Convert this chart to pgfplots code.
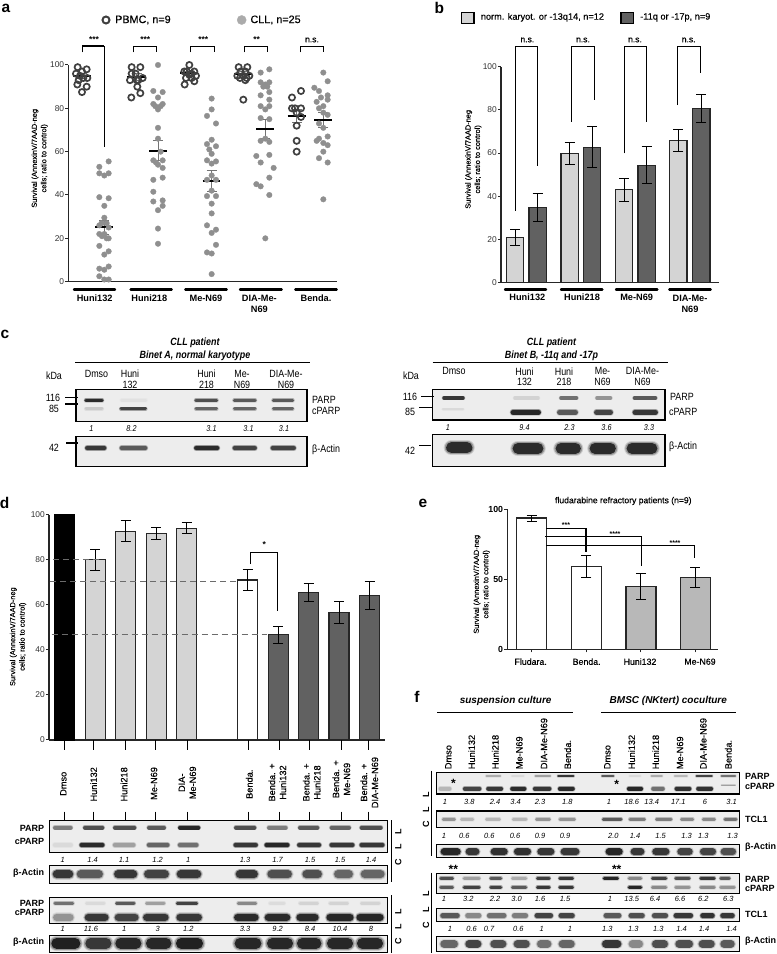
\documentclass[border=0pt]{standalone}
\usepackage{fontspec}
\setmainfont{Liberation Sans}
\newfontfamily\cf[FakeStretch=.85]{Liberation Sans}
\newfontfamily\sm[FakeBold=.35]{Liberation Sans}
\usepackage{pgfplots}
\pgfplotsset{compat=1.18}
\newcommand\fs[2]{\fontsize{#1}{#2}\selectfont}

\definecolor{lgray}{gray}{0.83}
\definecolor{dgray}{gray}{0.38}
\definecolor{dots}{gray}{0.56}
\definecolor{ring}{gray}{0.25}
\definecolor{blotbg}{gray}{0.93}

% one sheet = a crop of the figure, coordinates in crop pixels
\pgfplotsset{
 sheet/.style n args={6}{
  at={(#1pt,954pt-#2pt-#4pt)}, anchor=south west, scale only axis,
  width=#3pt, height=#4pt, xmin=0, xmax=#5, ymin=0, ymax=#6,
  y dir=reverse, hide axis, clip=false},
 chart/.style={
  anchor=south west, scale only axis, clip=false,
  axis lines*=left, axis line style={-,line width=1.3pt,black!85},
  xtick=\empty, tick style={black!85,line width=1pt}, major tick length=3pt,
  tick align=outside, ymin=0, ymax=100,
  /pgf/number format/assume math mode=true,
  yticklabel style={font=\fs{8.4}{9},black!80,inner sep=1pt},
  error bars/y dir=both, error bars/y explicit,
  error bars/error bar style={line width=1pt,black},
  error bars/error mark options={rotate=90,line width=1pt,mark size=5pt,black}},
 barchart/.style={chart,ybar,bar shift=0pt},
 bar1/.style={draw=black!85,line width=1.2pt,fill=lgray},
 bar2/.style={draw=black!85,line width=1.2pt,fill=dgray},
 bar0/.style={draw=black!85,line width=1.2pt,fill=white},
 brk/.style={no marks,black,line width=1pt,sharp plot},
 dsh/.style={sharp plot,no marks,black!58,line width=1.1pt,dash pattern=on 6pt off 4pt},
}
\tikzset{
 t/.style={inner sep=0pt,align=center},
 yl/.style={t,rotate=90,font=\fs{7.4}{9.4}\sm},
 cat/.style={t,font=\fs{9.2}{10.5}\bfseries},
 pan/.style={t,font=\fs{15.5}{16}\bfseries},
 num/.style={t,font=\fs{7.5}{8}\itshape},
 numc/.style={t,font=\fs{8.5}{9}\cf\itshape},
 rot/.style={t,rotate=90,anchor=west,font=\fs{9.2}{11}\sm},
 rl/.style={t,font=\fs{9}{10}\bfseries,anchor=west},
 ll/.style={t,font=\fs{9}{10}\bfseries,anchor=east},
 cl/.style={t,font=\fs{10.5}{10.7}\cf},
 sig/.style={t,font=\fs{8.5}{9}\bfseries},
 ns/.style={t,font=\fs{8.5}{9}\sm},
 lg/.style={t,anchor=west,font=\fs{10.8}{12}\sm},
 lgb/.style={t,anchor=west,font=\fs{9.2}{11}\sm},
 el/.style={t,font=\fs{8.8}{10}\sm},
 cll/.style={t,rotate=90,font=\fs{9}{10}\bfseries},
}

% a blot band, soft edge plus core; widths in crop pixels (crops are 3x in y)
\newcommand\band[5]{%
 \addplot[no marks,line cap=round,line width=#4*.333*1.3pt,black!#5,opacity=.15] coordinates {(#1,#3)(#2,#3)};
 \addplot[no marks,line cap=round,line width=#4*.333*1.12pt,black!#5,opacity=.3] coordinates {(#1,#3)(#2,#3)};
 \addplot[no marks,line cap=round,line width=#4*.333*.9pt,black!#5,opacity=.85] coordinates {(#1,#3)(#2,#3)};}
\newcommand\bands[3]{\foreach \a/\b/\g in {#3}{\edef\tmp{\noexpand\band{\a}{\b}{#1}{#2}{\g}}\tmp}}
\newcommand\blot[4]{\addplot[no marks,fill=blotbg,draw=black,line width=1.3pt] coordinates {(#1,#3)(#2,#3)(#2,#4)(#1,#4)} -- cycle;}
\newcommand\nums[3]{\foreach \x/\s in {#3}{\edef\tmp{\noexpand\node[#2] at (axis cs:\x,#1) {\s};}\tmp}}
\newcommand\under[3]{\addplot[no marks,line width=2.4pt,line cap=round,black] coordinates {(#1,#3)(#2,#3)};}
\newcommand\seg[4]{\addplot[no marks,line width=1pt,black] coordinates {(#1,#2)(#3,#4)};}

\begin{document}
\begin{tikzpicture}[x=1pt,y=1pt]
\useasboundingbox (0,0) rectangle (777pt,954pt);

%%%%% a
\begin{axis}[chart, at={(68.33pt,672.33pt)}, width=268.33pt, height=216.67pt,
 xmin=205, xmax=1010, ytick={0,20,40,60,80,100}]
\addplot[only marks,color=dots,mark=*,mark size=2.8pt,mark options={line width=.3pt,draw=dots,fill=dots}] coordinates {
(326,55.5)(298,53)(298,50)(326,50)(313,49)(298,39)(326,38.5)(313,35)(313,29.5)(305,27)(320,27)(298,26)(326,25)(298,22)(313,22)(306,21)(320,20)(326,20)(298,16.5)(326,14)(313,12.5)(298,6)(313,5.5)(326,7)(298,2.5)(313,1)(326,1)
(474,100)(460,88)(488,87.5)(474,85)(460,82)(488,82)(466,81)(482,81)(474,79.5)(474,71)(474,66)(482,60)(488,56)(460,56)(468,55)(474,54)(488,52.5)(460,47)(488,48)(460,41.5)(460,37)(488,37.5)(488,35)(474,33)(474,24.5)(474,17.5)
(635,84.5)(635,79.5)(621,76.5)(648,73)(635,65.5)(621,63.5)(648,62.5)(628,61)(635,59)(621,56)(648,55.5)(635,54.5)(635,49)(621,47)(648,47)(635,42)(621,39.5)(648,39.5)(635,36)(635,31.5)(621,26)(648,24)(635,22.5)(648,17)(621,13.5)(635,13)(635,3.5)
(782,96.5)(808,98)(782,92)(796,91)(808,92)(790,90)(802,90)(808,87.5)(782,86)(808,84)(782,81)(808,81)(796,79.5)(782,75.5)(808,75)(796,66)(782,65)(808,64.5)(769,58)(808,58.5)(782,55)(821,52.5)(808,48)(769,45)(782,44)(808,40)(796,20)
(970,96.5)(983,92.5)(943,89.5)(957,88)(963,85)(983,86)(950,83)(983,84)(970,81)(957,80)(970,78)(983,77)(957,73)(970,71)(983,67)(957,66)(950,65)(970,64)(983,63)(970,60)(957,57)(983,55)(970,38)};
\addplot[only marks,mark=o,mark size=3.1pt,mark options={draw=ring,line width=1.7pt}] coordinates {
(233,99)(246,97)(260,98)(228,96)(240,95)(250,94)(262,94)(236,93)(232,91)(260,90)(246,87.5)
(395,99)(421,99)(395,96)(407,96)(428,94)(390,93)(415,93)(410,93)(412,90)(421,87)(394,85)
(568,100)(553,97)(583,97)(560,97)(575,96)(568,95.5)(588,95)(558,94)(575,94)(583,92.5)(554,91)
(716,99)(742,99)(722,97)(736,97)(712,95)(748,95)(730,95)(720,94)(740,94)(736,93)(730,84)
(903,88)(876,85)(876,80)(885,80)(903,80)(890,78)(903,76)(890,72)(890,65)(890,60)};
% SEM whiskers
\addplot[draw=none,no marks,error bars/error bar style={line width=.9pt,black!55},error bars/error mark options={rotate=90,line width=.9pt,mark size=5pt,black!55}] coordinates {
(246,95) +- (0,1.3) (313,25) +- (0,3.2) (410,94.5) +- (0,1.5) (474,60.5) +- (0,4.5)
(568,96.3) +- (0,0.9) (635,46.4) +- (0,4.7) (730,95.7) +- (0,1.4) (796,70.5) +- (0,4.5)
(890,76.5) +- (0,3.2) (970,74.7) +- (0,3.5)};
% means
\foreach \a/\b/\m in {219/273/95,286/340/25.2,381/435/94.5,448/501/60.5,541/595/96.3,608/661/46.4,702/756/95.7,769/823/70.5,863/917/76.5,943/997/74.7}{
 \edef\tmp{\noexpand\addplot[no marks,line width=1.9pt,black] coordinates {(\a,\m)(\b,\m)};}\tmp}
\end{axis}

\begin{axis}[sheet={0}{0}{400}{320}{1200}{960}]
\addplot[only marks,mark=o,mark size=3.5pt,mark options={draw=ring,line width=2pt}] coordinates {(318,60)};
\addplot[only marks,mark=*,mark size=4.6pt,mark options={draw=black!33,fill=black!33,line width=.3pt}] coordinates {(725,60)};
\addplot[brk,line width=1.1pt] coordinates {(247,157)(247,138)(313,138)};
\addplot[brk,line width=1.6pt] coordinates {(313,138)(313,440)};
\addplot[brk] coordinates {(399,157)(399,138)(470,138)(470,157)};
\addplot[brk] coordinates {(571,157)(571,138)(642,138)(642,157)};
\addplot[brk] coordinates {(733,157)(733,138)(803,138)(803,157)};
\addplot[brk] coordinates {(901,157)(901,138)(971,138)(971,157)};
\under{222}{345}{868}\under{392}{515}{868}\under{556}{680}{868}\under{720}{845}{868}\under{886}{1010}{868}
\node[pan] at (18,26) {a};
\node[lg] at (345,60) {PBMC, n=9};
\node[lg] at (751,60) {CLL, n=25};
\node[sig] at (282,120) {***};\node[sig] at (436,120) {***};\node[sig] at (610,120) {***};\node[sig] at (770,120) {**};
\node[ns] at (936,120) {n.s.};
\node[cat] at (284,894) {Huni132};\node[cat] at (448,894) {Huni218};\node[cat] at (618,894) {Me-N69};
\node[cat,anchor=north] at (778,886) {DIA-Me-\\N69};\node[cat] at (948,894) {Benda.};
\node[yl] at (119,475) {Survival (AnnexinV/7AAD-neg\\cells; ratio to control)};
\end{axis}

%%%%% b
\begin{axis}[barchart, at={(501pt,671.33pt)}, width=218.33pt, height=216pt, xmin=303, xmax=958,
 ytick={0,20,40,60,80,100}, bar width=17.5pt]
\addplot[bar1] coordinates {(345,21) +- (0,3.8) (509,59.7) +- (0,5.1) (672,43) +- (0,5.3) (835,65.8) +- (0,5)};
\addplot[bar2] coordinates {(413,34.7) +- (0,6.5) (576,62.7) +- (0,9.5) (740,54.3) +- (0,8.6) (903.5,80.5) +- (0,6.5)};
\end{axis}
\begin{axis}[sheet={400}{0}{377}{320}{1131}{960}]
\addplot[no marks,fill=lgray,draw=black,line width=1.4pt] coordinates {(185,37)(222,37)(222,70)(185,70)} -- cycle;
\addplot[no marks,fill=dgray,draw=black,line width=1.4pt] coordinates {(663,37)(700,37)(700,70)(663,70)} -- cycle;
\addplot[brk] coordinates {(347,632)(347,138)(413,138)(413,497)};
\addplot[brk] coordinates {(515,365)(515,138)(583,138)(583,300)};
\addplot[brk] coordinates {(672,460)(672,138)(740,138)(740,365)};
\addplot[brk] coordinates {(833,315)(833,138)(900,138)(900,220)};
\under{315}{438}{868}\under{483}{607}{868}\under{648}{772}{868}\under{808}{932}{868}
\node[pan] at (118,24) {b};
\node[lgb] at (242,52) {norm. karyot. or -13q14, n=12};
\node[lgb] at (720,52) {-11q or -17p, n=9};
\nums{120}{ns}{382/n.s.,549/n.s.,705/n.s.,866/n.s.}
\node[cat] at (382,893) {Huni132};\node[cat] at (546,893) {Huni218};\node[cat] at (710,893) {Me-N69};
\node[cat,anchor=north] at (870,885) {DIA-Me-\\N69};
\node[yl] at (220,478) {Survival (AnnexinV/7AAD-neg\\cells; ratio to control)};
\end{axis}

%%%%% c  (this crop: 2x in x, 3x in y)
\begin{axis}[sheet={0}{320}{777}{170}{1554}{510}]
\node[pan] at (10,42) {c};
\node[t,font=\fs{10.5}{12.7}\cf\itshape\bfseries] at (390,88) {CLL patient\\Binet A, normal karyotype};
\node[t,font=\fs{10.5}{12.7}\cf\itshape\bfseries] at (1103,88) {CLL patient\\Binet B, -11q and -17p};
\addplot[no marks,line width=1.2pt,black] coordinates {(150,127)(620,127)};
\addplot[no marks,line width=1.2pt,black] coordinates {(865,127)(1335,127)};
\node[cl] at (108,166) {kDa};\node[cl] at (822,168) {kDa};
\node[cl] at (193,161) {Dmso};\node[cl,anchor=north] at (260,150) {Huni\\132};
\node[cl,anchor=north] at (413,150) {Huni\\218};\node[cl,anchor=north] at (484,150) {Me-\\N69};\node[cl,anchor=north] at (572,150) {DIA-Me-\\N69};
\node[cl] at (908,152) {Dmso};\node[cl,anchor=north] at (1049,142) {Huni\\132};\node[cl,anchor=north] at (1128,142) {Huni\\218};
\node[cl,anchor=north] at (1205,142) {Me-\\N69};\node[cl,anchor=north] at (1285,142) {DIA-Me-\\N69};
% left blots
\blot{152}{614}{208}{305}
\bands{241}{11}{172/204/90,244/291/12,392/433/75,469/510/70,547/585/70}
\bands{266}{10}{172/204/22,242/291/80,392/433/65,469/510/65,547/585/65}
\blot{152}{614}{349}{440}
\bands{384}{16}{175/208/85,244/290/70,393/434/90,470/509/80,546/587/80}
\addplot[no marks,line width=1.4pt,black] coordinates {(130,233)(155,233)};
\addplot[no marks,line width=1.4pt,black] coordinates {(130,252)(155,252)};
\addplot[no marks,line width=1.4pt,black] coordinates {(132,369)(155,369)};
\node[cl] at (106,233) {116};\node[cl] at (108,266) {85};\node[cl] at (108,384) {42};
\node[cl,anchor=west] at (624,240) {PARP};\node[cl,anchor=west] at (624,272) {cPARP};\node[cl,anchor=west] at (624,388) {β-Actin};
\nums{325}{numc}{183/1,263/8.2,423/3.1,497/3.1,568/3.1}
% right blots
\blot{865}{1330}{208}{300}
\bands{234}{11}{888/926/85,1030/1076/18,1122/1153/60,1194/1221/45,1269/1311/70}
\bands{277}{16}{1026/1077/92,1119/1151/70,1193/1221/80,1270/1311/85}
\band{886}{926}{268}{7}{15}
\blot{865}{1330}{343}{440}
\bands{385}{36}{1036/1076/90,1122/1151/90,1190/1221/90,1264/1304/90}
\band{903}{934}{383}{36}{90}
\addplot[no marks,line width=1.2pt,black] coordinates {(842,229)(868,229)};
\addplot[no marks,line width=1.2pt,black] coordinates {(838,263)(865,263)};
\addplot[no marks,line width=1.2pt,black] coordinates {(838,376)(862,376)};
\node[cl] at (820,231) {116};\node[cl] at (820,277) {85};\node[cl] at (820,393) {42};
\node[cl,anchor=west] at (1340,232) {PARP};\node[cl,anchor=west] at (1338,277) {cPARP};\node[cl,anchor=west] at (1338,380) {β-Actin};
\nums{324}{numc}{896/1,1049/9.4,1139/2.3,1213/3.6,1298/3.3}
\end{axis}

%%%%% d
\begin{axis}[barchart, at={(49pt,214pt)}, width=336pt, height=225.33pt, xmin=147, xmax=1155,
 ytick={0,20,40,60,80,100}, bar width=20pt]
\addplot[draw=black,fill=black,line width=1.2pt] coordinates {(194,100)};
\addplot[bar1] coordinates {(286,80) +- (0,4.6) (377,92.7) +- (0,4.8) (468.5,91.7) +- (0,2.5) (560,94) +- (0,2.4)};
\addplot[bar0] coordinates {(743,71) +- (0,4.5)};
\addplot[bar2] coordinates {(835,46.7) +- (0,3.7) (925.5,65.3) +- (0,4) (1017,56.5) +- (0,5) (1109,64) +- (0,6.2)};
\addplot[dsh] coordinates {(160,80)(300,80)};
\addplot[dsh] coordinates {(150,70.5)(710,70.5)};
\addplot[dsh] coordinates {(155,46.7)(800,46.7)};
\end{axis}
\begin{axis}[sheet={0}{490}{420}{260}{1260}{780}]
\node[pan] at (14,40) {d};
\addplot[brk] coordinates {(750,222)(750,186)(832,186)(832,362)};
\node[sig] at (793,164) {*};
\node[yl] at (54,440) {Survival (AnnexinV/7AAD-neg\\cells; ratio to control)};
\end{axis}
\begin{axis}[sheet={0}{730}{420}{224}{1260}{672}]
\foreach \x in {192,281,375,466,563,746,838,928,1024,1105}{
 \edef\tmp{\noexpand\seg{\x}{30}{\x}{60}\noexpand\seg{\x}{245}{\x}{270}}\tmp}
\node[rot] at (190,198) {Dmso};\node[rot] at (281,215) {Huni132};\node[rot] at (372,215) {Huni218};\node[rot] at (462,210) {Me-N69};
\node[rot] at (562,208) {DIA-\\Me-N69};\node[rot] at (748,207) {Benda.};
\node[rot] at (832,215) {Benda. +\\Huni132};\node[rot] at (935,215) {Benda. +\\Huni218};\node[rot] at (1024,205) {Benda. +\\Me-N69};\node[rot] at (1108,235) {Benda. +\\DIA-Me-N69};
\blot{148}{1163}{272}{367}
\bands{293}{13}{165/212/55,255/307/75,345/403/75,447/492/70,540/595/92,708/763/75,807/857/55,900/952/70,995/1047/65,1085/1142/75}
\bands{345}{15}{165/212/15,245/307/90,345/400/40,447/502/65,540/589/60,707/767/85,800/862/92,898/957/85,995/1057/85,1085/1147/85}
\blot{148}{1163}{407}{460}
\bands{433}{26}{170/208/85,242/297/70,354/400/85,444/495/80,542/592/85,719/762/85,814/864/75,919/954/75,1014/1047/65,1094/1142/65}
\blot{148}{1163}{503}{580}
\bands{520}{10}{165/218/60,260/312/15,350/402/70,440/492/40,532/590/80,715/767/50,810/852/14,900/952/18,990/1042/18,1085/1137/18}
\bands{562}{24}{170/210/45,265/315/85,355/405/80,440/495/85,540/595/85,713/765/90,805/860/90,900/945/90,990/1050/92,1080/1140/92}
\blot{148}{1163}{617}{668}
\bands{640}{36}{170/225/95,272/318/85,362/408/92,454/498/92,544/593/95,720/768/92,817/863/92,907/948/92,997/1043/92,1087/1133/92}
\nums{390}{num}{188/1,278/1.4,372/1.1,473/1.2,565/1,735/1.3,833/1.7,930/1.5,1020/1.5,1113/1.4}
\nums{597}{num}{188/1,273/11.6,373/1,473/3,565/1.2,735/3.3,833/9.2,930/8.4,1020/10.4,1113/8}
\node[ll] at (133,296) {PARP};\node[ll] at (133,333) {cPARP};\node[ll] at (133,430) {β-Actin};
\node[ll] at (133,521) {PARP};\node[ll] at (133,548) {cPARP};\node[ll] at (133,637) {β-Actin};
\addplot[no marks,line width=1pt,black] coordinates {(1175,270)(1175,455)};
\addplot[no marks,line width=1pt,black] coordinates {(1175,495)(1175,668)};
\foreach \y/\s in {305/L,350/L,398/C,545/L,590/L,635/C}{
 \edef\tmp{\noexpand\node[cll] at (axis cs:1195,\y) {\s};}\tmp}
\end{axis}

%%%%% e
\begin{axis}[barchart, at={(507.33pt,304.67pt)}, width=211pt, height=140pt, xmin=262, xmax=895,
 ytick={0,50,100}, xtick={335,499,663,826}, xticklabels={}, bar width=30pt,
 yticklabel style={font=\fs{8.8}{9}\bfseries,black}]
\addplot[bar0,line width=1.4pt] coordinates {(335,93.7) +- (0,2.2) (499,59.3) +- (0,8)};
\addplot[draw=black!85,line width=1.4pt,fill=black!28] coordinates {(663,45) +- (0,9.3) (826,51.5) +- (0,7)};
\end{axis}
\begin{axis}[sheet={420}{490}{357}{220}{1071}{660}]
\node[pan] at (9,40) {e};
\node[t,font=\fs{8.6}{10}\sm] at (610,33) {fludarabine refractory patients (n=9)};
\addplot[brk] coordinates {(378,114)(498,114)};\addplot[brk,line width=1.7pt] coordinates {(498,114)(498,185)};
\addplot[brk] coordinates {(375,140)(663,140)(663,228)};
\addplot[brk] coordinates {(378,167)(824,167)(824,205)};
\node[t,font=\fs{7}{8}\bfseries] at (438,106) {***};\node[t,font=\fs{7}{8}\bfseries] at (585,131) {****};\node[t,font=\fs{7}{8}\bfseries] at (765,158) {****};
\node[el] at (332,515) {Fludara.};\node[el] at (500,515) {Benda.};
\node[el] at (660,515) {Huni132};\node[el] at (840,515) {Me-N69};
\node[yl] at (185,283) {Survival (AnnexinV/7AAD-neg\\cells; ratio to control)};
\end{axis}

%%%%% f
\begin{axis}[sheet={420}{690}{357}{264}{1071}{792}]
\node[pan] at (-9,21) {f};
\node[t,font=\fs{10}{12}\bfseries\itshape] at (257,32) {suspension culture};
\node[t,font=\fs{10}{12}\bfseries\itshape] at (745,32) {BMSC (NKtert) coculture};
\addplot[no marks,line width=1.3pt,black] coordinates {(52,68)(460,68)};
\addplot[no marks,line width=1.3pt,black] coordinates {(543,68)(948,68)};
\foreach \x/\s in {85/Dmso,155/Huni132,226/Huni218,298/Me-N69,372/DIA-Me-N69,443/Benda.,562/Dmso,635/Huni132,707/Huni218,780/Me-N69,850/DIA-Me-N69,925/Benda.}{
 \edef\tmp{\noexpand\node[rot] at (axis cs:\x,238) {\s};}\tmp}
\blot{50}{958}{247}{312}
\bands{258}{8}{200/240/35,277/310/15,347/390/40,415/460/85,547/580/70,630/660/15,695/725/35,765/800/30,830/875/80,905/945/60}
\bands{296}{14}{62/88/30,135/178/80,205/243/85,277/313/90,345/388/85,420/458/90,627/663/92,700/728/60,770/808/88,835/873/88}
\band{905}{945}{286}{5}{40}
\blot{50}{958}{363}{412}
\bands{388}{10}{70/103/45,125/158/30,200/238/30,280/318/30,350/388/45,420/463/45,550/603/70,630/673/55,710/753/55,785/818/50,850/883/50,915/948/60}
\blot{50}{958}{463}{502}
\bands{485}{22}{72/112/92,147/168/85,222/253/88,292/323/88,362/393/85,432/468/85,567/598/92,642/663/85,707/738/85,782/808/80,850/878/80,912/938/75}
\blot{50}{958}{550}{610}
\bands{565}{11}{63/97/75,133/177/40,213/242/70,278/317/35,353/387/82,420/457/85,553/592/92,628/662/50,698/737/80,768/807/75,843/882/85,903/927/70}
\bands{592}{11}{63/97/70,133/177/80,213/242/80,278/317/70,353/387/85,420/457/85,628/662/92,698/737/50,768/807/45,843/882/50,903/942/45}
\blot{50}{958}{655}{695}
\bands{677}{16}{68/112/70,143/177/50,208/252/60,283/317/55,351/392/80,423/457/80,558/597/70,633/667/75,703/737/75,768/812/85,848/877/88,908/937/85}
\blot{50}{958}{740}{785}
\bands{762}{24}{72/103/65,147/173/80,222/248/75,292/318/75,362/383/60,427/453/65,557/593/85,637/658/50,707/733/75,777/808/75,847/873/75,912/933/70}
\node[t,font=\fs{12}{12}\bfseries] at (100,280) {*};\node[t,font=\fs{12}{12}\bfseries] at (590,283) {*};
\node[t,font=\fs{12}{12}\bfseries] at (100,537) {**};\node[t,font=\fs{12}{12}\bfseries] at (590,537) {**};
\nums{337}{num}{75/1,148/3.8,225/2.4,287/3.4,360/2.3,442/1.8,567/1,635/18.6,695/13.4,775/17.1,855/6,935/3.1}
\nums{437}{num}{72/1,133/0.6,208/0.6,285/0.6,360/0.9,435/0.9,580/2.0,645/1.4,722/1.5,800/1.3,850/1.3,938/1.3}
\nums{627}{num}{72/1,145/3.2,225/2.2,290/3.0,360/1.6,435/1.5,570/1,635/13.5,705/6.4,780/6.6,850/6.2,925/6.3}
\nums{716}{num}{90/1,155/0.6,207/0.7,295/0.6,365/1,450/1,562/1.3,640/1.3,715/1.3,785/1.4,852/1.4,935/1.4}
\foreach \y/\s in {260/PARP,288/cPARP,388/TCL1,472/β-Actin,568/PARP,596/cPARP,673/TCL1,755/β-Actin}{
 \edef\tmp{\noexpand\node[rl] at (axis cs:975,\y) {\s};}\tmp}
\addplot[no marks,line width=1.1pt,black] coordinates {(35,242)(35,497)};
\addplot[no marks,line width=1.1pt,black] coordinates {(35,548)(35,790)};
\foreach \y/\s in {315/L,360/L,403/C,612/L,660/L,705/C}{
 \edef\tmp{\noexpand\node[cll] at (axis cs:18,\y) {\s};}\tmp}
\end{axis}
\end{tikzpicture}
\end{document}
